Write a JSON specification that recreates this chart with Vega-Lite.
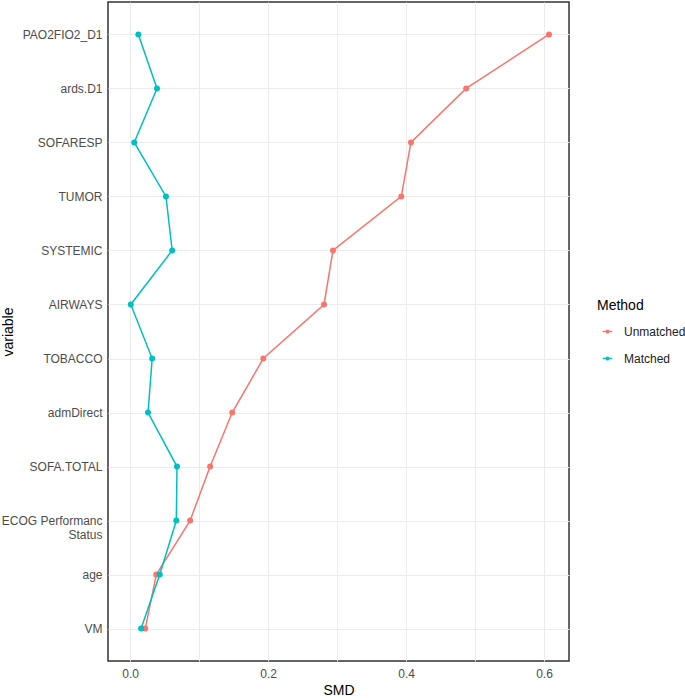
{
  "$schema": "https://vega.github.io/schema/vega-lite/v6.json",
  "width": 461,
  "height": 659,
  "autosize": {"type": "none"},
  "padding": {"left": 108, "top": 2, "right": 116, "bottom": 38},
  "config": {
    "view": {"stroke": "#333333", "strokeWidth": 1.5},
    "font": "Liberation Sans",
    "axis": {
      "grid": true,
      "gridColor": "#EBEBEB",
      "gridWidth": 1,
      "domain": false,
      "ticks": false,
      "labelColor": "#4D4D4D",
      "labelFontSize": 12,
      "labelFont": "Liberation Sans",
      "titleFont": "Liberation Sans",
      "titleFontSize": 14,
      "titleFontWeight": "normal",
      "titleColor": "#000000"
    }
  },
  "data": {
    "values": [
      {"variable": "PAO2FIO2_D1", "Method": "Unmatched", "SMD": 0.607},
      {"variable": "ards.D1", "Method": "Unmatched", "SMD": 0.487},
      {"variable": "SOFARESP", "Method": "Unmatched", "SMD": 0.407},
      {"variable": "TUMOR", "Method": "Unmatched", "SMD": 0.393},
      {"variable": "SYSTEMIC", "Method": "Unmatched", "SMD": 0.294},
      {"variable": "AIRWAYS", "Method": "Unmatched", "SMD": 0.281},
      {"variable": "TOBACCO", "Method": "Unmatched", "SMD": 0.193},
      {"variable": "admDirect", "Method": "Unmatched", "SMD": 0.148},
      {"variable": "SOFA.TOTAL", "Method": "Unmatched", "SMD": 0.116},
      {"variable": "ECOG Performanc Status", "Method": "Unmatched", "SMD": 0.087},
      {"variable": "age", "Method": "Unmatched", "SMD": 0.038},
      {"variable": "VM", "Method": "Unmatched", "SMD": 0.022},
      {"variable": "PAO2FIO2_D1", "Method": "Matched", "SMD": 0.012},
      {"variable": "ards.D1", "Method": "Matched", "SMD": 0.039},
      {"variable": "SOFARESP", "Method": "Matched", "SMD": 0.006},
      {"variable": "TUMOR", "Method": "Matched", "SMD": 0.052},
      {"variable": "SYSTEMIC", "Method": "Matched", "SMD": 0.061},
      {"variable": "AIRWAYS", "Method": "Matched", "SMD": 0.001},
      {"variable": "TOBACCO", "Method": "Matched", "SMD": 0.032},
      {"variable": "admDirect", "Method": "Matched", "SMD": 0.026},
      {"variable": "SOFA.TOTAL", "Method": "Matched", "SMD": 0.068},
      {"variable": "ECOG Performanc Status", "Method": "Matched", "SMD": 0.067},
      {"variable": "age", "Method": "Matched", "SMD": 0.043},
      {"variable": "VM", "Method": "Matched", "SMD": 0.016}
    ]
  },
  "encoding": {
    "x": {
      "field": "SMD",
      "type": "quantitative",
      "scale": {"domain": [-0.032, 0.636], "nice": false, "zero": false},
      "axis": {
        "values": [0, 0.1, 0.2, 0.3, 0.4, 0.5, 0.6],
        "labelExpr": "round(datum.value*10) % 2 == 0 ? format(datum.value, '.1f') : ''",
        "labelPadding": 7,
        "titlePadding": 4,
        "title": "SMD"
      }
    },
    "y": {
      "field": "variable",
      "type": "nominal",
      "sort": ["PAO2FIO2_D1", "ards.D1", "SOFARESP", "TUMOR", "SYSTEMIC", "AIRWAYS", "TOBACCO", "admDirect", "SOFA.TOTAL", "ECOG Performanc Status", "age", "VM"],
      "scale": {"type": "point", "padding": 0.6},
      "axis": {
        "title": "variable",
        "labelPadding": 6,
        "titleX": -100,
        "titleBaseline": "middle",
        "labelExpr": "datum.value == 'ECOG Performanc Status' ? ['ECOG Performanc', 'Status'] : datum.value"
      }
    },
    "color": {
      "field": "Method",
      "type": "nominal",
      "scale": {"domain": ["Unmatched", "Matched"], "range": ["#F8766D", "#00BFC4"]},
      "legend": {
        "orient": "none",
        "legendX": 489,
        "legendY": 297,
        "title": "Method",
        "titleFontSize": 14,
        "titleFontWeight": "normal",
        "titleColor": "#000000",
        "titlePadding": 8,
        "labelFontSize": 12,
        "labelColor": "#222222",
        "labelOffset": 6,
        "rowPadding": 10,
        "symbolType": "M-0.5,0H0.5M-0.13,0A0.13,0.13,0,1,1,0.13,0A0.13,0.13,0,1,1,-0.13,0Z",
        "symbolSize": 361,
        "symbolStrokeWidth": 1.5
      }
    }
  },
  "layer": [
    {"mark": {"type": "line", "strokeWidth": 1.5}},
    {"mark": {"type": "point", "filled": true, "size": 36, "opacity": 1, "shape": "circle"}}
  ]
}
